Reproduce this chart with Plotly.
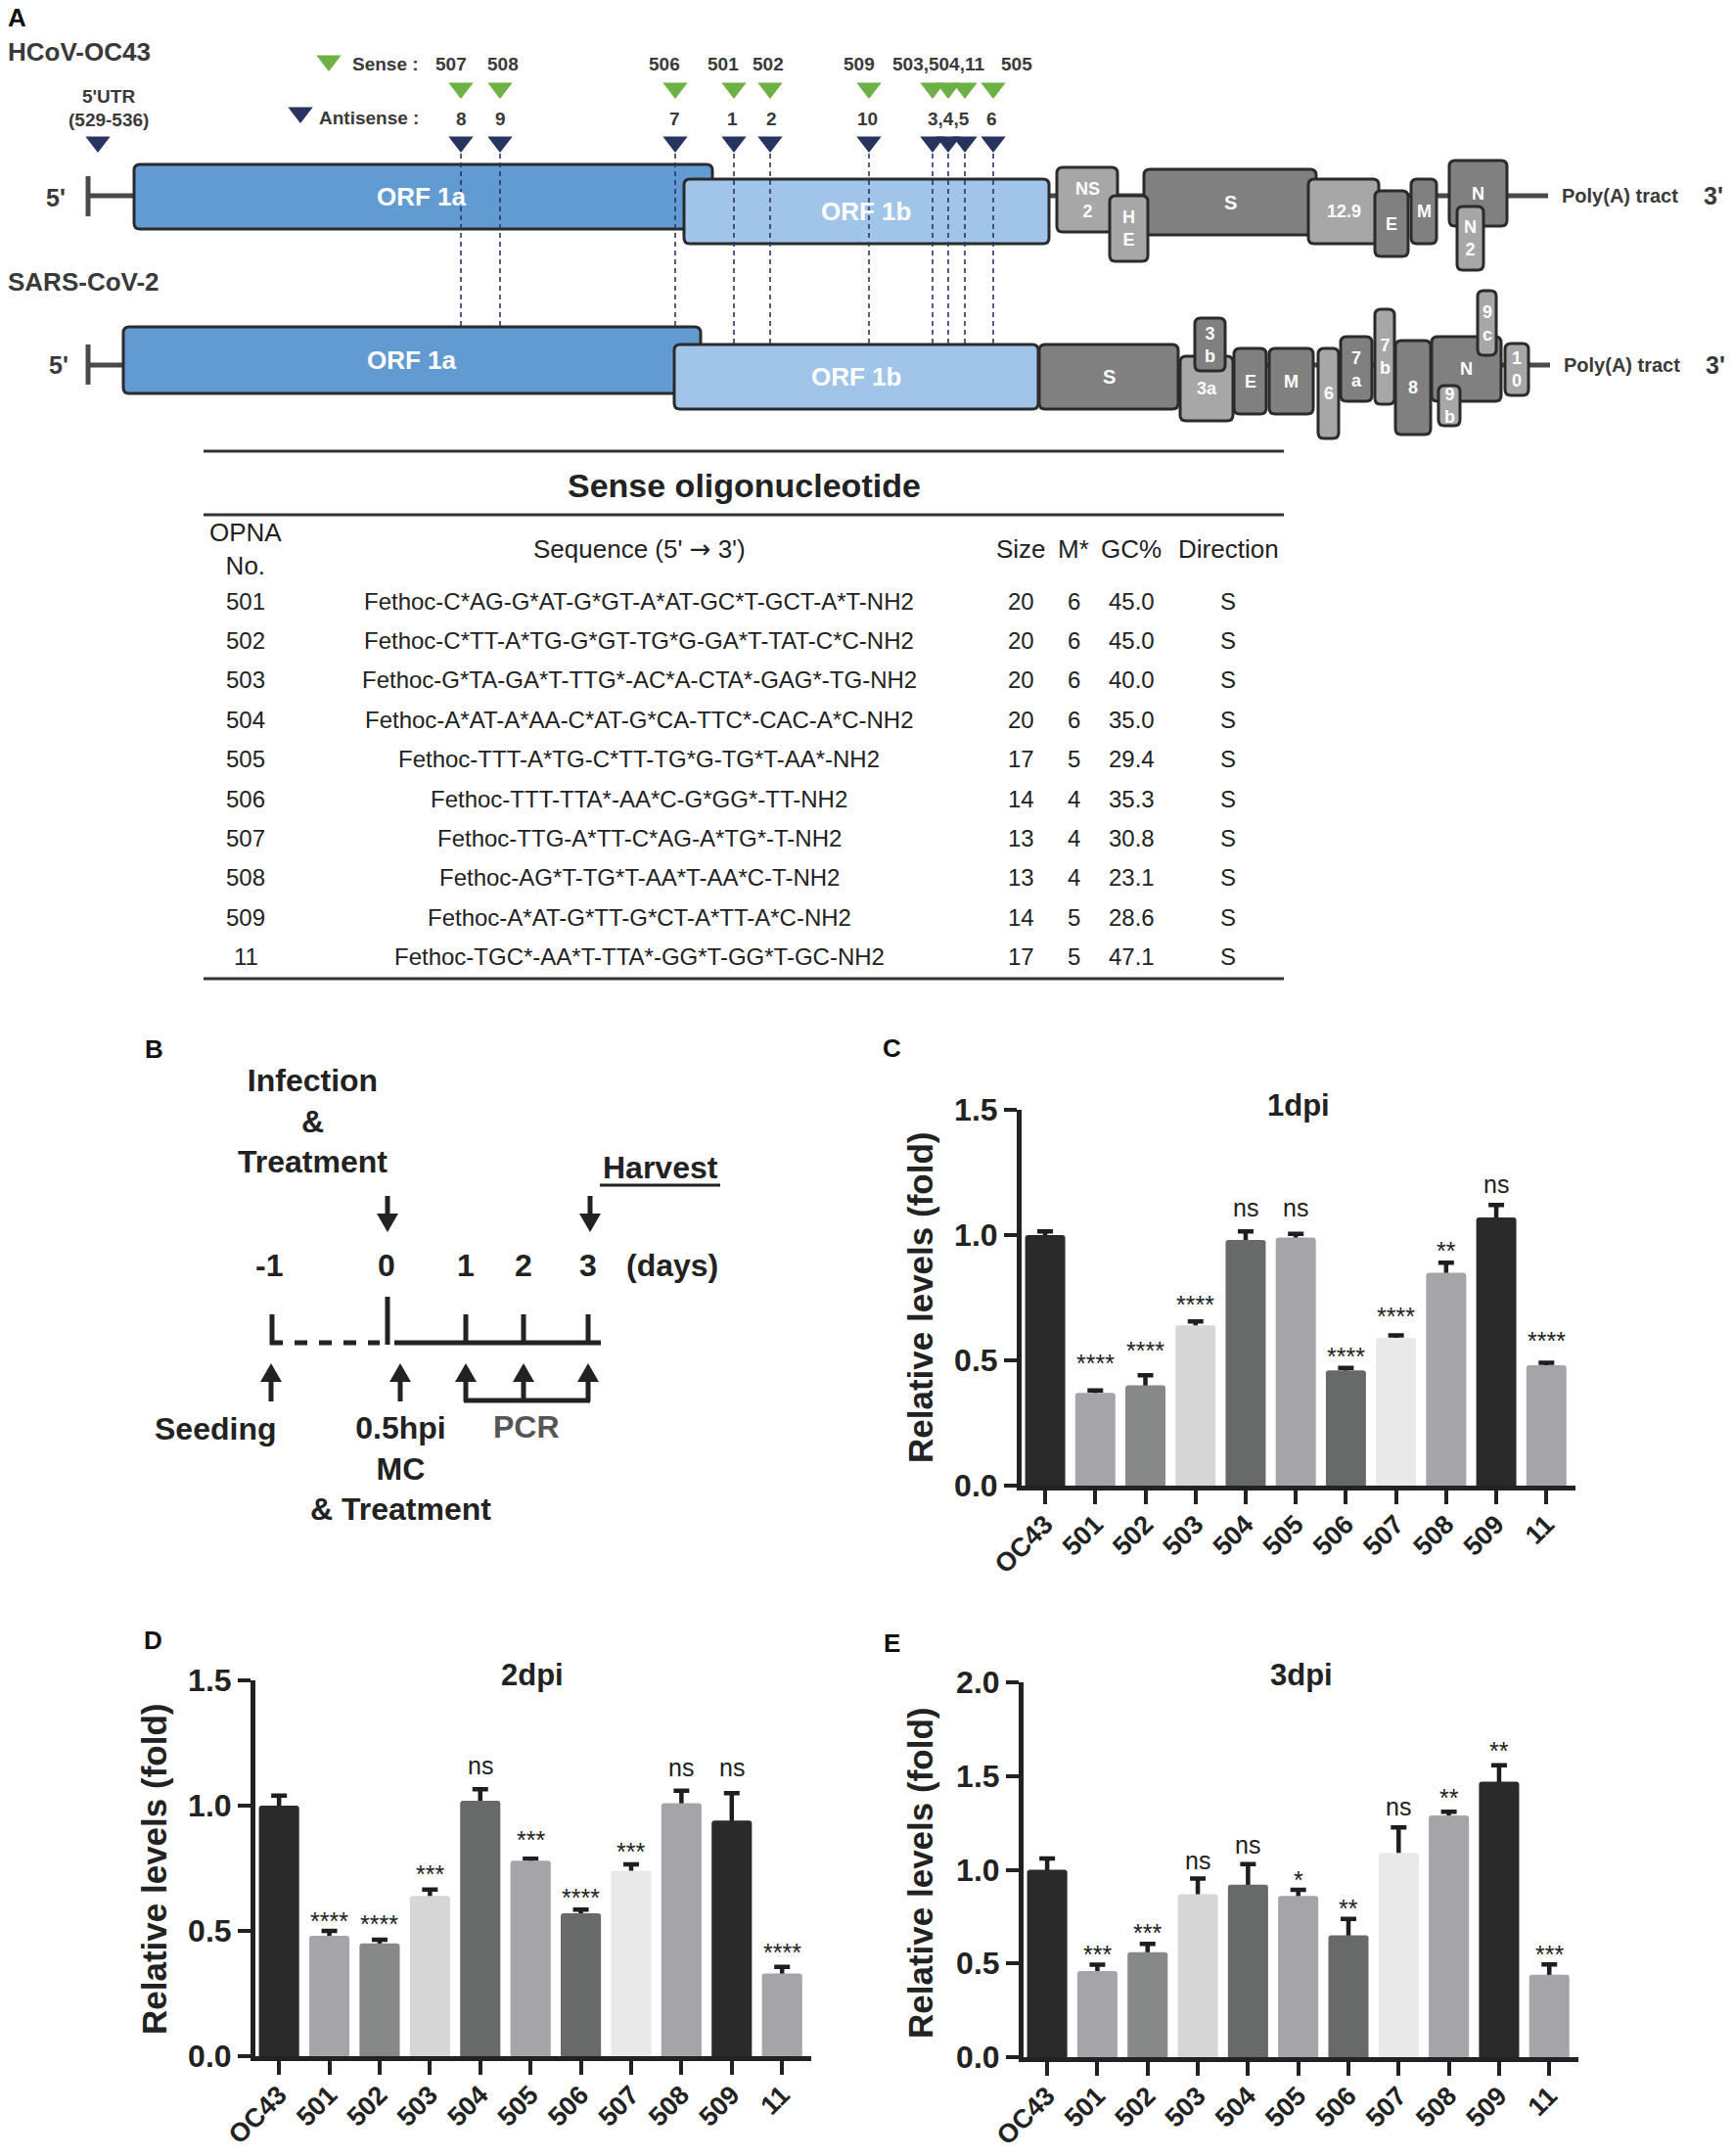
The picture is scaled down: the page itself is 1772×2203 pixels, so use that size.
import plotly.graph_objects as go

W, H = 1772, 2203
FONT = "Liberation Sans, Arial, Helvetica, sans-serif"
INK = "#222222"
LABEL = "#3a3a3a"

# ---------------- data: bar charts ----------------
categories = ["OC43", "501", "502", "503", "504", "505", "506", "507", "508", "509", "11"]
bar_colors = ["#2a2a2a", "#a4a4a9", "#878888", "#d6d6d6", "#686969", "#a4a4a9",
              "#686969", "#e9e9e9", "#a4a4a9", "#2a2a2a", "#a4a4a9"]

dpi1_mean = [1.00, 0.37, 0.40, 0.64, 0.98, 0.99, 0.46, 0.59, 0.85, 1.07, 0.48]
dpi1_err = [0.015, 0.01, 0.04, 0.015, 0.035, 0.015, 0.01, 0.01, 0.04, 0.05, 0.01]
dpi1_sig = ["", "****", "****", "****", "ns", "ns", "****", "****", "**", "ns", "****"]
dpi1_sig_y = [None, 0.517, 0.568, 0.749, 1.11, 1.11, 0.542, 0.705, 0.965, 1.204, 0.607]

dpi2_mean = [1.00, 0.48, 0.45, 0.64, 1.02, 0.78, 0.57, 0.74, 1.01, 0.94, 0.33]
dpi2_err = [0.04, 0.02, 0.015, 0.025, 0.045, 0.008, 0.015, 0.026, 0.05, 0.11, 0.026]
dpi2_sig = ["", "****", "****", "***", "ns", "***", "****", "***", "ns", "ns", "****"]
dpi2_sig_y = [None, 0.566, 0.556, 0.755, 1.162, 0.889, 0.661, 0.845, 1.154, 1.154, 0.443]

dpi3_mean = [1.00, 0.46, 0.56, 0.87, 0.92, 0.86, 0.65, 1.09, 1.29, 1.47, 0.44]
dpi3_err = [0.06, 0.033, 0.045, 0.083, 0.11, 0.033, 0.087, 0.136, 0.02, 0.087, 0.055]
dpi3_sig = ["", "***", "***", "ns", "ns", "*", "**", "ns", "**", "**", "***"]
dpi3_sig_y = [None, 0.587, 0.699, 1.051, 1.135, 0.984, 0.829, 1.338, 1.419, 1.671, 0.587]

# ---------------- data: oligonucleotide table ----------------
opna_no = ["501", "502", "503", "504", "505", "506", "507", "508", "509", "11"]
sequences = [
    "Fethoc-C*AG-G*AT-G*GT-A*AT-GC*T-GCT-A*T-NH2",
    "Fethoc-C*TT-A*TG-G*GT-TG*G-GA*T-TAT-C*C-NH2",
    "Fethoc-G*TA-GA*T-TTG*-AC*A-CTA*-GAG*-TG-NH2",
    "Fethoc-A*AT-A*AA-C*AT-G*CA-TTC*-CAC-A*C-NH2",
    "Fethoc-TTT-A*TG-C*TT-TG*G-TG*T-AA*-NH2",
    "Fethoc-TTT-TTA*-AA*C-G*GG*-TT-NH2",
    "Fethoc-TTG-A*TT-C*AG-A*TG*-T-NH2",
    "Fethoc-AG*T-TG*T-AA*T-AA*C-T-NH2",
    "Fethoc-A*AT-G*TT-G*CT-A*TT-A*C-NH2",
    "Fethoc-TGC*-AA*T-TTA*-GG*T-GG*T-GC-NH2",
]
sizes = [20, 20, 20, 20, 17, 14, 13, 13, 14, 17]
modified = [6, 6, 6, 6, 5, 4, 4, 4, 5, 5]
gc_percent = ["45.0", "45.0", "40.0", "35.0", "29.4", "35.3", "30.8", "23.1", "28.6", "47.1"]
direction = ["S"] * 10
table_headers = ["OPNA<br>No.",
                 "Sequence (5' <span style='font-family:DejaVu Sans'>\u2192</span> 3')",
                 "Size", "M*", "GC%", "Direction"]

# ---------------- data: genome map labels ----------------
sense_labels = ["507", "508", "506", "501", "502", "509", "503,504,11", "505"]
antisense_labels = ["8", "9", "7", "1", "2", "10", "3,4,5", "6"]
oc43_genes = ["NS<br>2", "S", "H<br>E", "12.9", "E", "M", "N", "N<br>2"]
sars_genes = ["S", "3a", "3<br>b", "E", "M", "6", "7<br>a", "7<br>b", "8", "N", "9<br>b", "9<br>c", "1<br>0"]
timeline_days = ["-1", "0", "1", "2", "3"]

# ---------------- layout geometry (pixels) ----------------
sense_label_x = [461, 514, 679, 739, 785, 878, 959, 1039]
anti_label_x = [471, 511, 689, 748, 788, 886, 969, 1013]
site_x = [471, 511, 690, 750, 787, 888, 953, 969, 986, 1015]
site_end_y = [334, 334, 334, 352, 352, 352, 352, 352, 352, 352]
DARK, LIGHT = "#808080", "#a7a7a7"
oc43_boxes = [(1080, 171, 1142, 237, LIGHT), (1169, 173, 1345, 240, DARK), (1134, 200, 1173, 267, LIGHT),
              (1337, 183, 1409, 249, LIGHT), (1405, 195, 1439, 262, DARK), (1442, 183, 1468, 249, DARK),
              (1481, 164, 1540, 231, DARK), (1489, 211, 1516, 276, LIGHT)]
sars_boxes = [(1062, 352, 1204, 418, DARK), (1206, 364, 1260, 430, LIGHT), (1221, 325, 1252, 379, DARK),
              (1261, 356, 1294, 423, DARK), (1297, 356, 1342, 423, DARK), (1347, 356, 1368, 448, LIGHT),
              (1370, 344, 1402, 410, DARK), (1405, 316, 1425, 413, LIGHT), (1426, 348, 1462, 444, DARK),
              (1463, 344, 1534, 410, DARK), (1470, 394, 1492, 435, LIGHT), (1510, 297, 1529, 363, LIGHT),
              (1538, 351, 1562, 404, LIGHT)]

shapes, annotations = [], []


def T(text, x, y, size, color=LABEL, bold=True, xanchor="center", yanchor="middle", angle=0):
    annotations.append(dict(text=text, x=x, y=y, xref="x4", yref="y4", showarrow=False,
                            xanchor=xanchor, yanchor=yanchor, textangle=angle,
                            font=dict(family=FONT, size=size, color=color,
                                      weight="bold" if bold else "normal")))


def L(x0, y0, x1, y1, w=4, color=INK, dash="solid"):
    shapes.append(dict(type="line", xref="x4", yref="y4", x0=x0, y0=y0, x1=x1, y1=y1,
                       line=dict(color=color, width=w, dash=dash), layer="above"))


def P(path, fill, lw=0, lc=INK):
    shapes.append(dict(type="path", xref="x4", yref="y4", path=path, fillcolor=fill,
                       line=dict(color=lc, width=lw), layer="above"))


def rrect(x0, y0, x1, y1, r=6):
    return (f"M{x0+r},{y0} L{x1-r},{y0} Q{x1},{y0} {x1},{y0+r} L{x1},{y1-r} Q{x1},{y1} {x1-r},{y1} "
            f"L{x0+r},{y1} Q{x0},{y1} {x0},{y1-r} L{x0},{y0+r} Q{x0},{y0} {x0+r},{y0} Z")


def box(x0, y0, x1, y1, fill, label=None, size=18):
    P(rrect(x0, y0, x1, y1), fill, lw=3, lc="#2b2b2b")
    if label:
        T(label, (x0 + x1) / 2, (y0 + y1) / 2, size, color="white")


# ---------------- Panel A: genome map ----------------
T("A", 17, 18, 26, color="#111")
T("HCoV-OC43", 6, 53, 26, xanchor="left")
T("SARS-CoV-2", 6, 288, 26, xanchor="left")
T("Sense :", 430, 65, 19, xanchor="right")
T("Antisense :", 430, 120, 19, xanchor="right")
for lab, x in zip(sense_labels, sense_label_x):
    T(lab, x, 65, 19)
for lab, x in zip(antisense_labels, anti_label_x):
    T(lab, x, 121, 19)
T("5'UTR", 111, 98, 19)
T("(529-536)", 111, 122, 19)

# backbones
L(1072, 200, 1582, 200, 5, "#4a4a4a")
L(90, 200, 138, 200, 5, "#4a4a4a")
L(90, 180, 90, 221, 5, "#4a4a4a")
L(1061, 373, 1584, 373, 5, "#4a4a4a")
L(90, 373, 127, 373, 5, "#4a4a4a")
L(90, 352, 90, 393, 5, "#4a4a4a")

# OC43
box(137, 168, 728, 234, "#629bd1")
box(699, 183, 1072, 249, "#a1c5e8")
T("ORF 1a", 431, 201, 26, color="white")
T("ORF 1b", 885, 216, 26, color="white")
for (x0, y0, x1, y1, c), lab in zip(oc43_boxes, oc43_genes):
    box(x0, y0, x1, y1, c, lab, 20 if lab == "S" else 18)
# SARS-CoV-2
box(126, 334, 716, 402, "#629bd1")
box(689, 352, 1061, 418, "#a1c5e8")
T("ORF 1a", 421, 368, 26, color="white")
T("ORF 1b", 875, 385, 26, color="white")
for (x0, y0, x1, y1, c), lab in zip(sars_boxes, sars_genes):
    box(x0, y0, x1, y1, c, lab, 20 if lab == "S" else 18)

for x, ye in zip(site_x, site_end_y):
    L(x, 157, x, ye, 1.6, "#2b3467", "5px,4px")

T("5'", 57, 202, 25)
T("5'", 60, 373, 25)
T("3'", 1751, 200, 25)
T("3'", 1753, 373, 25)
T("Poly(A) tract", 1655, 200, 20)
T("Poly(A) tract", 1657, 373, 20)

# ---------------- table ----------------
L(208, 461, 1312, 461, 3, "#333")
L(208, 526, 1312, 526, 3, "#333")
L(208, 1000, 1312, 1000, 3, "#333")
T("Sense oligonucleotide", 760, 496, 34, color="#222")
col_x = [251, 653, 1043, 1097, 1156, 1255]
for hx, ht in zip(col_x, table_headers):
    T(ht, hx, 561, 26, color="#222", bold=False)
for i in range(len(opna_no)):
    ry = 614 + i * 40.4
    row = [opna_no[i], sequences[i], str(sizes[i]), str(modified[i]), gc_percent[i], direction[i]]
    for cx, val in zip(col_x, row):
        T(val, cx, ry, 24, color="#222", bold=False)

# ---------------- Panel B: timeline ----------------
T("B", 157, 1072, 26, color="#111")
T("Infection<br>&<br>Treatment", 319, 1145, 32, color=INK)
T("Harvest", 675, 1193, 32, color=INK)
L(613, 1211, 736, 1211, 3)


def arrow_down(x):
    L(x, 1222, x, 1243, 5)
    P(f"M{x-11},1240 L{x+11},1240 L{x},1259 Z", INK)


def arrow_up(x):
    L(x, 1410, x, 1432, 5)
    P(f"M{x-11},1412 L{x+11},1412 L{x},1393 Z", INK)


arrow_down(396)
arrow_down(603)
for lab, x in zip(timeline_days, [275, 395, 476, 535, 601]):
    T(lab, x, 1293, 32, color=INK)
T("(days)", 687, 1293, 32, color=INK)
L(278, 1343, 278, 1374, 5)
L(396, 1325, 396, 1374, 5)
for x in [476, 535, 601]:
    L(x, 1343, x, 1374, 5)
L(276, 1372, 388, 1372, 5, INK, "13px,12px")
L(403, 1372, 614, 1372, 5)
for x in [277, 409, 476, 535, 601]:
    arrow_up(x)
L(474, 1431, 603, 1431, 5)
T("Seeding", 220, 1460, 32, color=INK)
T("0.5hpi<br>MC<br>& Treatment", 409, 1500, 32, color=INK)
T("PCR", 538, 1458, 32, color="#555555")

# ---------------- bar panels ----------------
panels = [
    dict(mean=dpi1_mean, err=dpi1_err, sig=dpi1_sig, sigy=dpi1_sig_y, xd=(1044, 1610), yd=(1134, 1518),
         yr=[0, 1.5], title="1dpi", tpos=(1327, 1129), ytpos=(940, 1326), letter=("C", 911, 1071)),
    dict(mean=dpi2_mean, err=dpi2_err, sig=dpi2_sig, sigy=dpi2_sig_y, xd=(261, 829), yd=(1717, 2101),
         yr=[0, 1.5], title="2dpi", tpos=(544, 1711), ytpos=(157, 1910), letter=("D", 156, 1676)),
    dict(mean=dpi3_mean, err=dpi3_err, sig=dpi3_sig, sigy=dpi3_sig_y, xd=(1046, 1613), yd=(1719, 2102),
         yr=[0, 2.0], title="3dpi", tpos=(1330, 1711), ytpos=(940, 1914), letter=("E", 911, 1679)),
]

fig = go.Figure()
layout_axes = {}
for k, p in enumerate(panels):
    n = k + 1
    xa, ya = ("x" if n == 1 else f"x{n}"), ("y" if n == 1 else f"y{n}")
    # error bars (drawn underneath the bars so only the upper part shows)
    fig.add_trace(go.Bar(x=categories, y=p["mean"], xaxis=xa, yaxis=ya, width=0.8,
                         marker=dict(color="rgba(0,0,0,0)", line=dict(width=0)),
                         error_y=dict(type="data", symmetric=False, array=p["err"], arrayminus=p["mean"],
                                      color="#1e1e1e", thickness=4.5, width=8),
                         showlegend=False, hoverinfo="skip"))
    fig.add_trace(go.Bar(x=categories, y=p["mean"], xaxis=xa, yaxis=ya, width=0.8,
                         marker=dict(color=bar_colors, line=dict(width=0), cornerradius=3),
                         showlegend=False))
    layout_axes["xaxis" if n == 1 else f"xaxis{n}"] = dict(
        domain=[p["xd"][0] / W, p["xd"][1] / W], anchor=ya, type="category", range=[-0.47, 10.58],
        showline=True, linewidth=5, linecolor=INK, ticks="outside", ticklen=14, tickwidth=4,
        tickcolor=INK, tickangle=-45, showgrid=False, zeroline=False, automargin=False,
        ticklabelstandoff=-6,
        tickfont=dict(family=FONT, size=27, color=INK, weight="bold"))
    layout_axes["yaxis" if n == 1 else f"yaxis{n}"] = dict(
        domain=[1 - p["yd"][1] / H, 1 - p["yd"][0] / H], anchor=xa, range=p["yr"], dtick=0.5,
        tickformat=".1f", showline=True, linewidth=5, linecolor=INK, ticks="outside", ticklen=13,
        tickwidth=4, tickcolor=INK, showgrid=False, zeroline=False, automargin=False,
        tickfont=dict(family=FONT, size=32, color=INK, weight="bold"))
    for idx, (s, sy) in enumerate(zip(p["sig"], p["sigy"])):
        if s:
            annotations.append(dict(text=s, x=idx, y=sy, xref=xa, yref=ya, showarrow=False,
                                    yanchor="middle", yshift=-7 if "*" in s else 0,
                                    font=dict(family=FONT, size=25, color=INK)))
    T(p["title"], p["tpos"][0], p["tpos"][1], 31, color=INK)
    T("Relative levels (fold)", p["ytpos"][0], p["ytpos"][1], 35, color=INK, angle=-90)
    T(p["letter"][0], p["letter"][1], p["letter"][2], 26, color="#111")

# genome map triangles (overlay pixel axes)
fig.add_trace(go.Scatter(x=site_x, y=[90] * len(site_x), xaxis="x4", yaxis="y4", mode="markers",
                         marker=dict(symbol="triangle-down", size=22, color="#6db144", line=dict(width=0)),
                         showlegend=False, hoverinfo="skip", cliponaxis=False))
fig.add_trace(go.Scatter(x=site_x + [100], y=[145] * (len(site_x) + 1), xaxis="x4", yaxis="y4",
                         mode="markers",
                         marker=dict(symbol="triangle-down", size=22, color="#283360", line=dict(width=0)),
                         showlegend=False, hoverinfo="skip", cliponaxis=False))
fig.add_trace(go.Scatter(x=[336, 307], y=[62, 115], xaxis="x4", yaxis="y4", mode="markers",
                         marker=dict(symbol="triangle-down", size=22, color=["#6db144", "#283360"],
                                     line=dict(width=0)),
                         showlegend=False, hoverinfo="skip", cliponaxis=False))

fig.update_layout(
    width=W, height=H, autosize=False, margin=dict(l=0, r=0, t=0, b=0, pad=0, autoexpand=False),
    paper_bgcolor="white", plot_bgcolor="rgba(0,0,0,0)", barmode="overlay", showlegend=False,
    font=dict(family=FONT, color=INK),
    xaxis4=dict(domain=[0, 1], range=[0, W], visible=False, anchor="y4", fixedrange=True, automargin=False),
    yaxis4=dict(domain=[0, 1], range=[H, 0], visible=False, anchor="x4", fixedrange=True, automargin=False),
    shapes=shapes, annotations=annotations, **layout_axes)

fig.write_html("out.html", config={"displayModeBar": False},
               post_script="document.body.style.margin='0';document.body.style.overflow='hidden';")
